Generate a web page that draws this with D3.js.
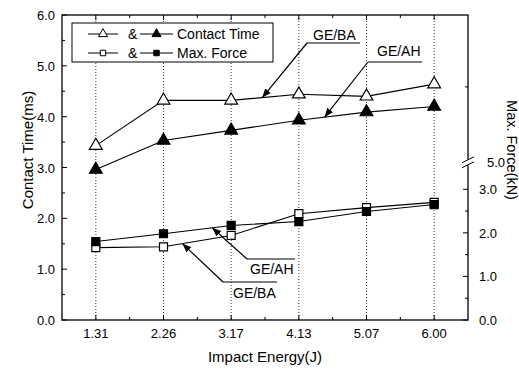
<!DOCTYPE html>
<html>
<head>
<meta charset="utf-8">
<script src="https://cdn.jsdelivr.net/npm/d3@7"></script>
<style>
  body { margin: 0; background: #fff; }
  text { font-family: Arial, "Liberation Sans", sans-serif; fill: #000; }
</style>
</head>
<body>
<div id="app"></div>
<script>
// impact energy categories (J)
const energy = ["1.31", "2.26", "3.17", "4.13", "5.07", "6.00"];
// contact time (ms)
const ctBA = [3.43, 4.32, 4.32, 4.44, 4.40, 4.64];
const ctAH = [2.96, 3.53, 3.73, 3.93, 4.09, 4.20];
// max force (kN)
const mfBA = [1.66, 1.68, 1.94, 2.44, 2.58, 2.70];
const mfAH = [1.80, 1.98, 2.17, 2.26, 2.49, 2.65];

const leftTicks = [0, 1, 2, 3, 4, 5, 6];
const leftMinor = [0.5, 1.5, 2.5, 3.5, 4.5, 5.5];
const rightTicks = [0, 1, 2, 3];
const rightMinor = [0.5, 1.5, 2.5, 5.35];
const rightBreak = 3.62;
const rightBreakLabel = "5.0";

const W = 519, H = 370;
const pLeft = 62, pRight = 468, pTop = 15, pBottom = 320;

const svg = d3.select("#app").append("svg")
  .attr("width", W).attr("height", H);

const x = d3.scalePoint().domain(energy).range([pLeft, pRight]).padding(0.5);
const y = d3.scaleLinear().domain([0, 6]).range([pBottom, pTop]);
const y2 = d3.scaleLinear().domain([0, 7]).range([pBottom, pTop]);

// dotted grid lines at each category
svg.append("g").selectAll("line").data(energy).join("line")
  .attr("x1", d => x(d)).attr("x2", d => x(d))
  .attr("y1", pTop).attr("y2", pBottom)
  .attr("stroke", "#000").attr("stroke-width", 0.8)
  .attr("stroke-dasharray", "1,2");

// frame
svg.append("rect")
  .attr("x", pLeft).attr("y", pTop)
  .attr("width", pRight - pLeft).attr("height", pBottom - pTop)
  .attr("fill", "none").attr("stroke", "#000").attr("stroke-width", 1.3);

const step = x.step();
const midX = energy.slice(0, -1).map(d => x(d) + step / 2)
  .concat([x(energy[0]) - step / 2, x(energy[energy.length - 1]) + step / 2])
  .filter(v => v > pLeft + 2 && v < pRight - 2);

const ticks = svg.append("g").attr("stroke", "#000").attr("stroke-width", 1);
// bottom & top ticks (inward)
energy.forEach(d => {
  ticks.append("line").attr("x1", x(d)).attr("x2", x(d)).attr("y1", pBottom).attr("y2", pBottom - 5);
  ticks.append("line").attr("x1", x(d)).attr("x2", x(d)).attr("y1", pTop).attr("y2", pTop + 5);
});
midX.forEach(v => {
  ticks.append("line").attr("x1", v).attr("x2", v).attr("y1", pBottom).attr("y2", pBottom - 3);
  ticks.append("line").attr("x1", v).attr("x2", v).attr("y1", pTop).attr("y2", pTop + 3);
});
// left ticks
leftTicks.forEach(v => ticks.append("line").attr("x1", pLeft).attr("x2", pLeft + 5).attr("y1", y(v)).attr("y2", y(v)));
leftMinor.forEach(v => ticks.append("line").attr("x1", pLeft).attr("x2", pLeft + 3).attr("y1", y(v)).attr("y2", y(v)));
// right ticks
rightTicks.forEach(v => ticks.append("line").attr("x1", pRight).attr("x2", pRight - 5).attr("y1", y2(v)).attr("y2", y2(v)));
rightMinor.forEach(v => ticks.append("line").attr("x1", pRight).attr("x2", pRight - 3).attr("y1", y2(v)).attr("y2", y2(v)));

// axis break on the right
const by = y2(rightBreak);
svg.append("rect").attr("x", pRight - 2).attr("y", by - 3).attr("width", 4).attr("height", 6).attr("fill", "#fff");
[-2.5, 2.5].forEach(o => svg.append("line")
  .attr("x1", pRight - 6).attr("x2", pRight + 6)
  .attr("y1", by + o + 3).attr("y2", by + o - 3)
  .attr("stroke", "#000").attr("stroke-width", 1));

// tick labels
svg.append("g").selectAll("text").data(energy).join("text")
  .attr("x", d => x(d)).attr("y", pBottom + 18)
  .attr("text-anchor", "middle").attr("font-size", 13).text(d => d);
svg.append("g").selectAll("text").data(leftTicks).join("text")
  .attr("x", pLeft - 7).attr("y", d => y(d) + 5)
  .attr("text-anchor", "end").attr("font-size", 13).text(d => d.toFixed(1));
svg.append("g").selectAll("text").data(rightTicks).join("text")
  .attr("x", pRight + 11).attr("y", d => y2(d) + 5)
  .attr("font-size", 13).text(d => d.toFixed(1));
svg.append("text").attr("x", pRight + 19).attr("y", by + 5)
  .attr("font-size", 13).text(rightBreakLabel);

// axis titles
svg.append("text").attr("x", 265).attr("y", 362).attr("text-anchor", "middle")
  .attr("font-size", 15).text("Impact Energy(J)");
svg.append("text").attr("transform", "translate(33,150) rotate(-90)")
  .attr("text-anchor", "middle").attr("font-size", 15).text("Contact Time(ms)");
svg.append("text").attr("transform", "translate(507,150) rotate(90)")
  .attr("text-anchor", "middle").attr("font-size", 14.5).text("Max. Force(kN)");

// series
const series = [
  { vals: ctBA, sc: y, sym: d3.symbolTriangle, fill: "#fff" },
  { vals: ctAH, sc: y, sym: d3.symbolTriangle, fill: "#000" },
  { vals: mfBA, sc: y2, sym: d3.symbolSquare, fill: "#fff" },
  { vals: mfAH, sc: y2, sym: d3.symbolSquare, fill: "#000" }
];
const line = d3.line();
series.forEach(s => {
  const pts = s.vals.map((v, i) => [x(energy[i]), s.sc(v)]);
  svg.append("path").attr("d", line(pts))
    .attr("fill", "none").attr("stroke", "#000").attr("stroke-width", 1.1);
  svg.append("g").selectAll("path").data(pts).join("path")
    .attr("transform", d => `translate(${d[0]},${d[1]})`)
    .attr("d", d3.symbol().type(s.sym).size(s.sym === d3.symbolSquare ? 64 : 70))
    .attr("fill", s.fill).attr("stroke", "#000").attr("stroke-width", 1.2);
});

// annotations: label, series, segment index, fraction along segment
const annotations = [
  { text: "GE/BA", s: 0, i: 2, f: 0.46, tx: 313, ty: 40, ux1: 307, ux2: 360, uy: 43 },
  { text: "GE/AH", s: 1, i: 3, f: 0.38, tx: 377, ty: 56, ux1: 368, ux2: 422, uy: 62 },
  { text: "GE/AH", s: 3, i: 1, f: 0.72, tx: 250, ty: 274, ux1: 247, ux2: 295, uy: 259 },
  { text: "GE/BA", s: 2, i: 1, f: 0.28, tx: 233, ty: 298, ux1: 223, ux2: 277, uy: 282 }
];
svg.append("defs").append("marker")
  .attr("id", "ah").attr("viewBox", "0 0 10 10").attr("refX", 10).attr("refY", 5)
  .attr("markerWidth", 9).attr("markerHeight", 9).attr("orient", "auto")
  .attr("markerUnits", "userSpaceOnUse")
  .append("path").attr("d", "M0,1 L10,5 L0,9 Z").attr("fill", "#000");
annotations.forEach(a => {
  const s = series[a.s];
  const v = s.vals[a.i] + a.f * (s.vals[a.i + 1] - s.vals[a.i]);
  const px = x(energy[a.i]) + a.f * step;
  const py = s.sc(v);
  svg.append("text").attr("x", a.tx).attr("y", a.ty).attr("font-size", 14).text(a.text);
  svg.append("line").attr("x1", a.ux1).attr("x2", a.ux2).attr("y1", a.uy).attr("y2", a.uy)
    .attr("stroke", "#000").attr("stroke-width", 1.2);
  svg.append("line").attr("x1", a.ux1).attr("y1", a.uy).attr("x2", px).attr("y2", py)
    .attr("stroke", "#000").attr("stroke-width", 1.2).attr("marker-end", "url(#ah)");
});

// legend
const lg = svg.append("g");
lg.append("rect").attr("x", 72).attr("y", 23).attr("width", 201).attr("height", 39)
  .attr("fill", "#fff").attr("stroke", "#000").attr("stroke-width", 1);
const legendRows = [
  { y: 34, sym: d3.symbolTriangle, label: "Contact Time" },
  { y: 53, sym: d3.symbolSquare, label: "Max. Force" }
];
legendRows.forEach(r => {
  [[88, 118, "#fff"], [140, 173, "#000"]].forEach(([a, b, f]) => {
    lg.append("line").attr("x1", a).attr("x2", b).attr("y1", r.y).attr("y2", r.y)
      .attr("stroke", "#000").attr("stroke-width", 1);
    lg.append("path").attr("transform", `translate(${(a + b) / 2},${r.y})`)
      .attr("d", d3.symbol().type(r.sym).size(r.sym === d3.symbolSquare ? 30 : 36))
      .attr("fill", f).attr("stroke", "#000").attr("stroke-width", 1);
  });
  lg.append("text").attr("x", 128).attr("y", r.y + 5).attr("font-size", 14).text("&");
  lg.append("text").attr("x", 177).attr("y", r.y + 5).attr("font-size", 14).text(r.label);
});
</script>
</body>
</html>
